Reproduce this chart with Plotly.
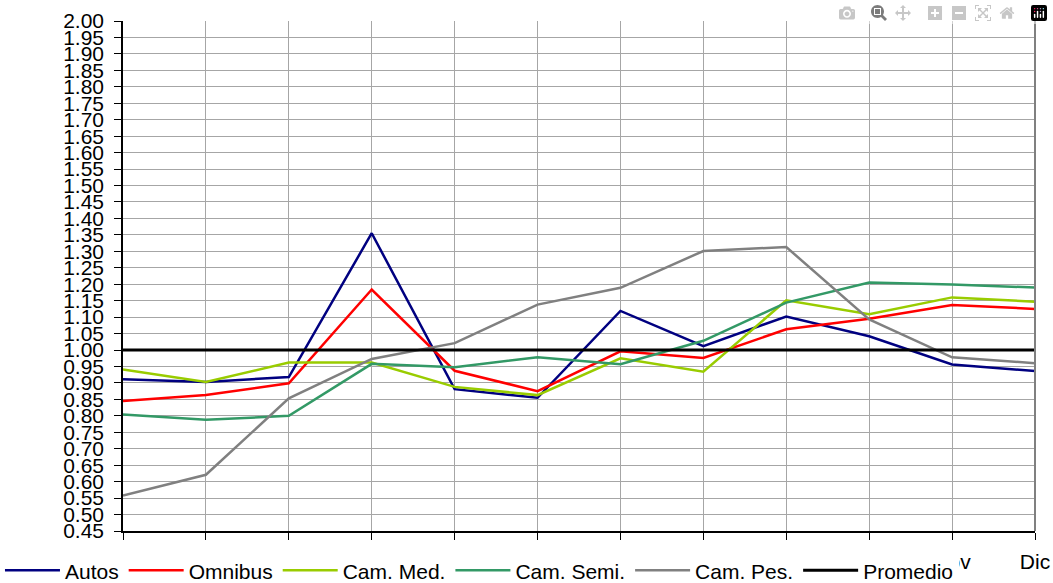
import plotly.graph_objects as go

months = ["Ene", "Feb", "Mar", "Abr", "May", "Jun", "Jul", "Ago", "Sep", "Oct", "Nov", "Dic"]

autos = [0.911, 0.903, 0.918, 1.355, 0.881, 0.855, 1.119, 1.012, 1.102, 1.042, 0.956, 0.936]
omnibus = [0.845, 0.863, 0.899, 1.184, 0.937, 0.875, 0.996, 0.976, 1.063, 1.095, 1.137, 1.125]
cam_med = [0.941, 0.903, 0.962, 0.962, 0.888, 0.863, 0.975, 0.934, 1.151, 1.109, 1.160, 1.147]
cam_semi = [0.804, 0.788, 0.800, 0.958, 0.948, 0.978, 0.957, 1.028, 1.144, 1.205, 1.199, 1.190]
cam_pes = [0.558, 0.621, 0.853, 0.973, 1.021, 1.138, 1.189, 1.301, 1.313, 1.093, 0.978, 0.960]
promedio = [1.00] * 12

series = [
    ("Autos", autos, "#000080", 2.5),
    ("Omnibus", omnibus, "#FF0000", 2.5),
    ("Cam. Med.", cam_med, "#99CC00", 2.5),
    ("Cam. Semi.", cam_semi, "#339966", 2.5),
    ("Cam. Pes.", cam_pes, "#808080", 2.5),
    ("Promedio", promedio, "#000000", 3),
]

fig = go.Figure()
for name, vals, color, w in series:
    fig.add_trace(go.Scatter(x=months, y=vals, name=name, mode="lines",
                             line=dict(color=color, width=w)))

font = "Liberation Sans, Arial, sans-serif"
fig.update_layout(
    width=1053, height=583,
    margin=dict(l=123, r=18, t=21, b=52, autoexpand=False),
    paper_bgcolor="white", plot_bgcolor="white",
    font=dict(family=font, size=21, color="black"),
    showlegend=True,
    legend=dict(orientation="h", x=-0.1349, xanchor="left",
                y=-0.118, yanchor="bottom",
                bgcolor="white", font=dict(size=21), itemwidth=55,
                tracegroupgap=0, traceorder="normal"),
    shapes=[dict(type="line", xref="paper", yref="paper", x0=1, x1=1, y0=0, y1=1,
                 line=dict(color="#808080", width=2))],
)
fig.update_xaxes(
    range=[0, 11], automargin=False, showgrid=True, gridcolor="#a6a6a6", gridwidth=1,
    showline=True, linecolor="black", linewidth=1.5,
    ticks="outside", ticklen=7, tickcolor="black",
    ticklabelstandoff=4, tickfont=dict(size=21),
)
fig.update_yaxes(
    range=[0.45, 2.00], automargin=False, tickmode="linear", tick0=0.45, dtick=0.05,
    tickformat=".2f", showgrid=True, gridcolor="#a6a6a6", gridwidth=1,
    showline=True, linecolor="black", linewidth=1.5,
    ticks="outside", ticklen=7, tickcolor="black",
    ticklabelstandoff=6, tickfont=dict(size=21), zeroline=False,
)

# drop the page's default body margin so the figure fills the window exactly
fig.write_html("out.html",
               post_script="document.body.style.margin='0';document.body.style.overflow='hidden';")
